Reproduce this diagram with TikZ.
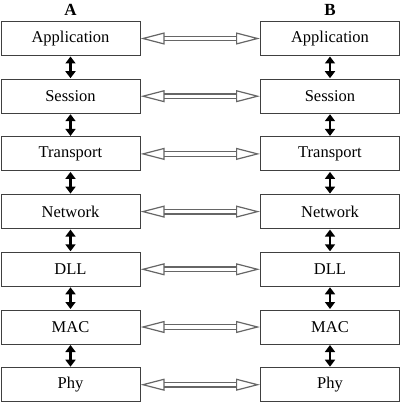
\documentclass[tikz,border=0pt]{standalone}
\usepackage{fontspec}
\setmainfont{Liberation Serif}
\usetikzlibrary{arrows.meta}
\usetikzlibrary{positioning}

\begin{document}
\begin{tikzpicture}
% 1px = 1pt, y goes down
    \def\XA{70.5pt}
    \def\XB{330pt}
    \def\YSTART{-38.5pt}
    \def\GAP{22.7pt} %between rows
    \def\MIDGAP{119.5pt} %between stacks

    \tikzset{
      layer/.style={draw=black!75, line width=1pt, minimum width=139pt,
        minimum height=34pt, inner sep=0pt, font=\fontsize{16.5}{18}\selectfont},
      updown/.style={{Triangle[width=10pt,length=7pt]}-{Triangle[width=10pt,length=7pt]},
        line width=2.2pt, shorten <=0.5pt, shorten >=0.5pt},
      peer/.style={{Triangle[open,width=12pt,length=24pt]}-{Triangle[open,width=12pt,length=24pt]},
        draw=black!60, double=white, double distance=3.4pt, line width=1.2pt},
      stackname/.style={font=\fontsize{17}{18}\selectfont\bfseries},
    }

    \useasboundingbox (0,0) rectangle (401pt,-404pt);

    % STACK A
    \node[layer] (aapp) at (\XA,\YSTART) {Application};
    \node[layer, below=\GAP of aapp] (asess) {Session};
    \node[layer, below=\GAP of asess] (atrans) {Transport};
    \node[layer, below=\GAP of atrans] (anet) {Network};
    \node[layer, below=\GAP of anet] (adll) {DLL};
    \node[layer, below=\GAP of adll] (amac) {MAC};
    \node[layer, below=\GAP of amac] (aphy) {Phy};

    % STACK B
    \node[layer, right=\MIDGAP of aapp] (bapp) {Application};
    \node[layer, right=\MIDGAP of asess] (bsess) {Session};
    \node[layer, right=\MIDGAP of atrans] (btrans) {Transport};
    \node[layer, right=\MIDGAP of anet] (bnet) {Network};
    \node[layer, right=\MIDGAP of adll] (bdll) {DLL};
    \node[layer, right=\MIDGAP of amac] (bmac) {MAC};
    \node[layer, right=\MIDGAP of aphy] (bphy) {Phy};

    % LABELS
    \node[stackname, above=2pt of aapp] (aname) {A};
    \node[stackname, above=2pt of bapp] (bname) {B};

    % UP AND DOWN
    \draw[updown] (aapp) -- (asess);
    \draw[updown] (asess) -- (atrans);
    \draw[updown] (atrans) -- (anet);
    \draw[updown] (anet) -- (adll);
    \draw[updown] (adll) -- (amac);
    \draw[updown] (amac) -- (aphy);

    \draw[updown] (bapp) -- (bsess);
    \draw[updown] (bsess) -- (btrans);
    \draw[updown] (btrans) -- (bnet);
    \draw[updown] (bnet) -- (bdll);
    \draw[updown] (bdll) -- (bmac);
    \draw[updown] (bmac) -- (bphy);

    % PEER TO PEER
    \draw[peer] (aapp) -- (bapp);
    \draw[peer] (asess) -- (bsess);
    \draw[peer] (atrans) -- (btrans);
    \draw[peer] (anet) -- (bnet);
    \draw[peer] (adll) -- (bdll);
    \draw[peer] (amac) -- (bmac);
    \draw[peer] (aphy) -- (bphy);

\end{tikzpicture}
\end{document}
